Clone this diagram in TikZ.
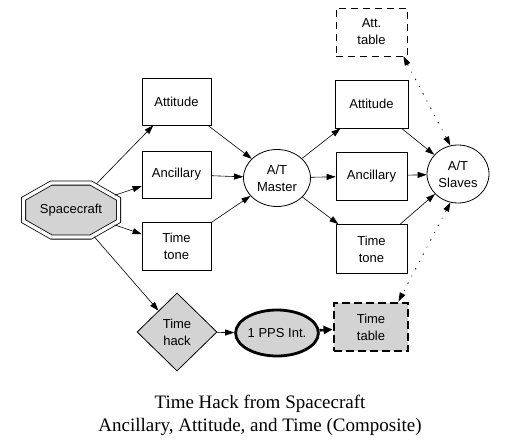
\documentclass[tikz,border=0pt]{standalone}
\usepackage{fontspec}
\setmainfont{Liberation Serif}
\newfontfamily\arialfont{Liberation Sans}
\usetikzlibrary{shapes.geometric,arrows.meta}
\definecolor{nodegray}{RGB}{211,211,211}
\begin{document}
\begin{tikzpicture}[x=1pt,y=-1pt,
  lbl/.style={font=\arialfont\fontsize{13}{17}\selectfont, align=center, inner sep=0pt},
  boxnode/.style={lbl, draw, line width=0.8pt, rectangle, minimum width=71pt, minimum height=48pt},
  ellnode/.style={lbl, draw, line width=0.8pt, ellipse, minimum width=67pt, minimum height=57pt},
  tip/.tip={Triangle[length=9pt,width=6pt]},
  conn/.style={line width=0.6pt, -tip},
  dotconn/.style={line width=0.8pt, tip-tip, dash pattern=on 1.5pt off 7pt on 0.8pt off 7pt},
  thickconn/.style={line width=2.6pt, -{Triangle[length=9pt,width=8pt]}},
]
\useasboundingbox (0,0) rectangle (516,447);

% Spacecraft double octagon
\draw[line width=0.8pt, double=white, double distance=3.4pt, fill=nodegray]
  (51.3,183) -- (90.7,183) -- (118.5,198.8) -- (118.5,221.2) -- (90.7,237)
  -- (51.3,237) -- (23.5,221.2) -- (23.5,198.8) -- cycle;
\node[lbl, ellipse, minimum width=100pt, minimum height=60pt] (sc) at (71,210) {Spacecraft};

% left column
\node[boxnode, minimum width=69pt, minimum height=47pt] (att1) at (176.5,101.5) {Attitude};
\node[boxnode, minimum width=69pt, minimum height=47pt] (anc1) at (176.5,174.5) {Ancillary};
\node[boxnode, minimum width=69pt, minimum height=48pt] (tt1) at (176.5,246) {Time\\tone};

% master
\node[ellnode] (master) at (277,178) {A/T\\Master};

% right column
\node[boxnode, dash pattern=on 7pt off 5pt] (atttab) at (371.5,32) {Att.\\table};
\node[boxnode, minimum width=73pt] (att2) at (371.5,104) {Attitude};
\node[boxnode] (anc2) at (371.5,176) {Ancillary};
\node[boxnode, minimum height=49pt] (tt2) at (371.5,249) {Time\\tone};

% slaves
\node[ellnode, minimum width=62pt, minimum height=58pt] (slaves) at (458,174) {A/T\\Slaves};

% bottom row
\node[lbl, diamond, draw, line width=0.8pt, fill=nodegray, minimum width=80pt, minimum height=78pt] (hack) at (177,332) {Time\\hack};
\node[lbl, ellipse, draw, line width=2.8pt, fill=nodegray, minimum width=80pt, minimum height=46pt] (pps) at (277,333) {1 PPS Int.};
\node[boxnode, line width=2.8pt, dash pattern=on 8pt off 4pt, fill=nodegray, minimum width=74pt, minimum height=48pt] (timetab) at (371,327) {Time\\table};

% caption
\node[font=\fontsize{19}{23}\selectfont, align=center, inner sep=0pt] (cap) at (260,415) {Time Hack from Spacecraft\\Ancillary, Attitude, and Time (Composite)};

% connectors
\draw[conn] (sc) -- (att1);
\draw[conn] (sc) -- (anc1);
\draw[conn] (sc) -- (tt1);
\draw[conn] (sc) -- (hack);
\draw[conn] (att1) -- (master);
\draw[conn] (anc1) -- (master);
\draw[conn] (tt1) -- (master);
\draw[conn] (master) -- (att2);
\draw[conn] (master) -- (anc2);
\draw[conn] (master) -- (tt2);
\draw[conn] (att2) -- (slaves);
\draw[conn] (anc2) -- (slaves);
\draw[conn] (tt2) -- (slaves);
\draw[dotconn] (slaves.105) -- ([xshift=-4pt]atttab.south east);
\draw[dotconn] (slaves.-105) -- ([xshift=-11pt]timetab.north east);
\draw[conn] (hack) -- (pps);
\draw[thickconn] (pps) -- (timetab);
\end{tikzpicture}
\end{document}
